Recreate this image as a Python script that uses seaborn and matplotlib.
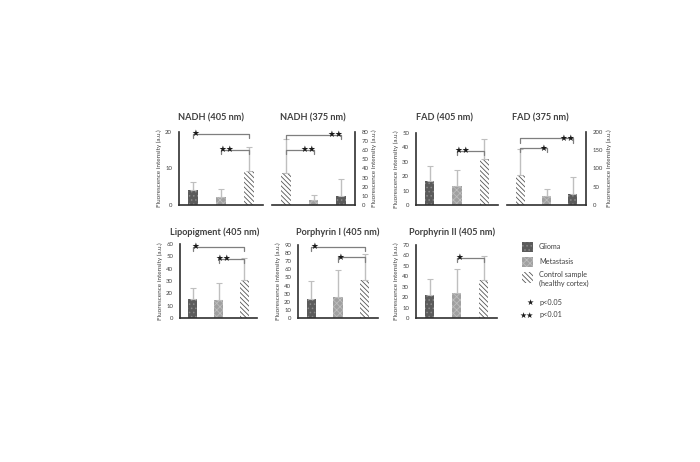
import matplotlib
matplotlib.use("Agg")
import matplotlib.pyplot as plt
from matplotlib.patches import Rectangle
import seaborn as sns
import pandas as pd
import numpy as np

# ---------------- data ----------------
titles = ["NADH (405 nm)", "NADH (375 nm)", "FAD (405 nm)", "FAD (375 nm)",
          "Lipopigment (405 nm)", "Porphyrin I (405 nm)", "Porphyrin II (405 nm)"]
groups = ["Glioma", "Metastasis", "Control"]
glioma_mean = [4.0, 10.0, 16.5, 29.0, 15.6, 24.0, 22.3]
glioma_err = [2.2, 18.5, 10.5, 49.0, 9.0, 22.0, 14.7]
metastasis_mean = [2.3, 6.0, 13.0, 25.0, 14.5, 26.5, 24.0]
metastasis_err = [2.0, 5.0, 11.3, 18.0, 13.7, 33.0, 23.0]
control_mean = [9.4, 35.0, 32.0, 83.0, 31.0, 46.3, 36.0]
control_err = [6.5, 37.5, 14.0, 71.0, 18.0, 32.0, 23.0]
y_max = [20, 80, 50, 200, 60, 90, 70]
y_step = [10, 10, 10, 50, 10, 10, 10]
mirrored = [False, True, False, True, False, False, False]
# significance brackets: (group a, group b, height, stars)
brackets = [
    [("Glioma", "Control", 19.5, "★"), ("Metastasis", "Control", 15.1, "★★")],
    [("Control", "Glioma", 77.0, "★★"), ("Control", "Metastasis", 60.5, "★★")],
    [("Metastasis", "Control", 37.6, "★★")],
    [("Control", "Glioma", 183.0, "★★"), ("Control", "Metastasis", 156.0, "★")],
    [("Glioma", "Control", 57.8, "★"), ("Metastasis", "Control", 48.0, "★★")],
    [("Glioma", "Control", 88.0, "★"), ("Metastasis", "Control", 74.8, "★")],
    [("Metastasis", "Control", 58.0, "★")],
]
legend_labels = ["Glioma", "Metastasis", "Control sample\n(healthy cortex)"]
sig_labels = [("★", "p<0.05"), ("★★", "p<0.01")]
ylabel = "Fluorescence intensity (a.u.)"

# ---------------- style ----------------
sns.set_style("white")
plt.rcParams["font.family"] = ["Lato", "DejaVu Sans"]
plt.rcParams["hatch.linewidth"] = 0.6

W, H = 700, 462
fig = plt.figure(figsize=(7, 4.62), dpi=100)

# axes rectangles in pixels: left, top(ymax), right, bottom(0)
rects = [(179, 132, 263, 205), (272, 132, 355, 205), (416, 133, 498, 205),
         (507, 132, 586, 205), (180, 244, 257, 318), (298, 245, 378, 318),
         (416, 245, 497, 318)]
title_pos = [(211, 118), (313, 118), (445, 118), (540, 118),
             (215, 232), (338, 232), (452, 232)]

styles = {
    "Glioma": dict(face="#5b5b5b", hatch="....", hcol="#8a8a8a"),
    "Metastasis": dict(face="#a0a0a0", hatch="xxxxx", hcol="#bdbdbd"),
    "Control": dict(face="white", hatch="\\\\\\\\\\\\\\", hcol="#555555"),
}
txtcol = "#404040"


def style_patch(p, g):
    st = styles[g]
    p.set_facecolor(st["face"])
    p.set_hatch(st["hatch"])
    p.set_edgecolor(st["hcol"])
    p.set_linewidth(0)


for i in range(7):
    l, t, r, b = rects[i]
    ax = fig.add_axes([l / W, 1 - b / H, (r - l) / W, (b - t) / H])
    order = groups[::-1] if mirrored[i] else groups
    df = pd.DataFrame({
        "group": groups,
        "value": [glioma_mean[i], metastasis_mean[i], control_mean[i]],
        "err": [glioma_err[i], metastasis_err[i], control_err[i]],
    })
    sns.barplot(data=df, x="group", y="value", order=order, ax=ax,
                errorbar=None, width=0.34, color="grey")
    pos = {g: k for k, g in enumerate(order)}
    for p, g in zip(ax.patches, order):
        style_patch(p, g)
    dfo = df.set_index("group").loc[order]
    xs = np.arange(3)
    ax.errorbar(xs, dfo["value"], yerr=[np.zeros(3), dfo["err"]], fmt="none",
                ecolor="#bfbfbf", elinewidth=1.0, capsize=2, capthick=0.8,
                zorder=1)
    ax.set_xlim(-0.5, 2.5)
    ax.set_ylim(0, y_max[i])
    ax.set_yticks(np.arange(0, y_max[i] + 1, y_step[i]))
    ax.set_xticks([])
    ax.set_xlabel("")
    ax.tick_params(axis="y", length=0, labelsize=4.3, colors=txtcol, pad=5)
    for s in ax.spines.values():
        s.set_visible(False)
    ax.spines["bottom"].set_visible(True)
    ax.spines["bottom"].set_color("#303030")
    ax.spines["bottom"].set_linewidth(1.2)
    side = "right" if mirrored[i] else "left"
    ax.spines[side].set_visible(True)
    ax.spines[side].set_color("#303030")
    ax.spines[side].set_linewidth(1.2)
    ax.patch.set_alpha(0)
    if mirrored[i]:
        ax.yaxis.tick_right()
        ax.yaxis.set_label_position("right")
    ax.set_ylabel(ylabel, fontsize=4.6, color=txtcol, labelpad=2)
    # brackets
    leg = y_max[i] * 0.06
    for a, bgrp, h, stars in brackets[i]:
        xa, xb = pos[a], pos[bgrp]
        ax.plot([xa, xa, xb, xb], [h - leg, h, h, h - leg], color="#7f7f7f",
                lw=0.9, clip_on=False, zorder=3)
        ns = bgrp if a == "Control" else a
        xc = pos["Control"]
        xstar = pos[ns] + (0.1 if xc > pos[ns] else -0.1) * len(stars)
        ax.text(xstar, h, stars, ha="center", va="center", fontsize=6.3,
                color="#1a1a1a", family=["DejaVu Sans"], clip_on=False,
                zorder=4)
    tx, ty = title_pos[i]
    fig.text(tx / W, 1 - ty / H, titles[i], ha="center", va="center",
             fontsize=6.6, fontweight="bold", color=txtcol)

# ---------------- legend ----------------
leg_rows = [(246.5, "Glioma"), (261.5, "Metastasis"), (277.5, "Control")]
for (yc, g), lab in zip(leg_rows, legend_labels):
    pw, ph = 11, 10 if g != "Control" else 11
    rect = Rectangle(((522) / W, 1 - (yc + ph / 2) / H), pw / W, ph / H,
                     transform=fig.transFigure)
    style_patch(rect, g)
    fig.add_artist(rect)
    if g == "Control":
        fig.text(539 / W, 1 - 275 / H, "Control sample", ha="left",
                 va="center", fontsize=5.2, color=txtcol)
        fig.text(539 / W, 1 - 283.5 / H, "(healthy cortex)", ha="left",
                 va="center", fontsize=5.2, color=txtcol)
    else:
        fig.text(539 / W, 1 - yc / H, lab, ha="left", va="center",
                 fontsize=5.2, color=txtcol)
for (stars, lab), yc in zip(sig_labels, [302.5, 315]):
    fig.text(533.5 / W, 1 - yc / H, stars, ha="right", va="center",
             fontsize=5.8, color="#1a1a1a", family=["DejaVu Sans"])
    fig.text(539 / W, 1 - yc / H, lab, ha="left", va="center",
             fontsize=5.2, color=txtcol)

fig.savefig("out.png", dpi=100, facecolor="white")
